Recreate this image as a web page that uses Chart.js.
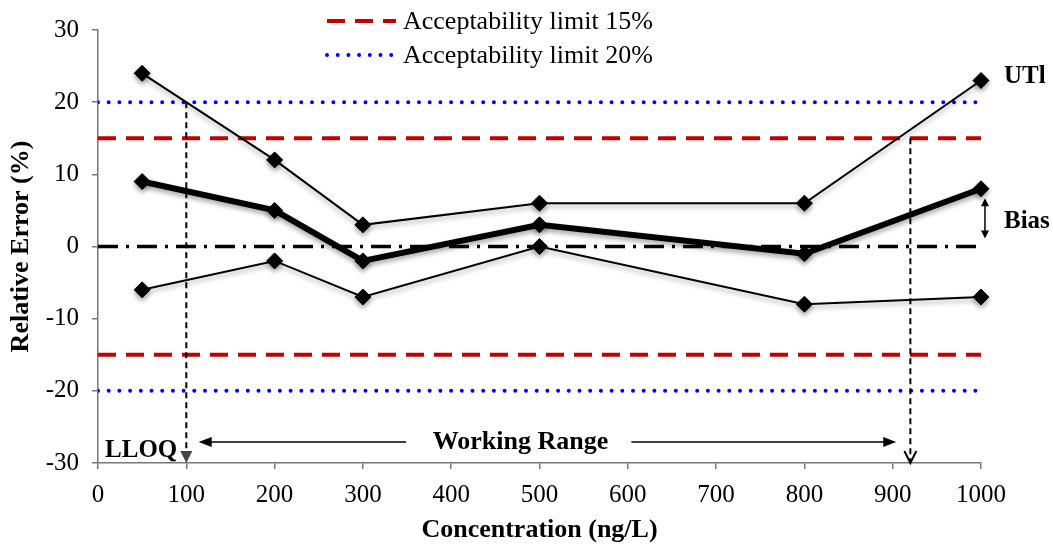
<!DOCTYPE html>
<html>
<head>
<meta charset="utf-8">
<script src="https://cdn.jsdelivr.net/npm/chart.js@4.4.1/dist/chart.umd.min.js"></script>
<style>
  html, body { margin: 0; padding: 0; background: #fff; }
  #wrap { width: 1053px; height: 546px; }
</style>
</head>
<body>
<div id="wrap"><canvas id="chart" width="1053" height="546"></canvas></div>
<script>
// values
const concentration = [50, 200, 300, 500, 800, 1000];
const upperTol = [24, 12, 3, 6, 6, 23];
const bias = [9, 5, -2, 3, -1, 8];
const lowerTol = [-6, -2, -7, 0, -8, -7];

const limitSpan = [0, 1000];
const limit15 = 15;
const limit20 = 20;

const xRange = [0, 1000];
const yRange = [-30, 30];

// annotation anchors (data units)
const lloqX = 100;
const uloqX = 920;
const rangeY = -27.1;

const FONT = "'Liberation Serif', 'Times New Roman', serif";
const RED = '#c00000';
const BLUE = '#0000ff';

const pts = (xs, ys) => xs.map((x, i) => ({ x: x, y: ys[i] }));
const flat = v => limitSpan.map(x => ({ x: x, y: v }));

function head(ctx, x, y, ang, len, half, mode) {
  ctx.save();
  ctx.translate(x, y);
  ctx.rotate(ang);
  ctx.setLineDash([]);
  ctx.beginPath();
  ctx.moveTo(-len, -half);
  ctx.lineTo(0, 0);
  ctx.lineTo(-len, half);
  if (mode === 'open') {
    ctx.lineWidth = 2;
    ctx.stroke();
  } else {
    ctx.closePath();
    ctx.fill();
  }
  ctx.restore();
}

const overlay = {
  id: 'overlay',
  beforeDatasetDraw(chart, args) {
    if (chart.data.datasets[args.index].shadow) {
      const c = chart.ctx;
      c.save();
      c.shadowColor = 'rgba(0,0,0,0.35)';
      c.shadowBlur = 5;
      c.shadowOffsetY = 3;
    }
  },
  afterDatasetDraw(chart, args) {
    if (chart.data.datasets[args.index].shadow) chart.ctx.restore();
  },
  afterDatasetsDraw(chart) {
    const ctx = chart.ctx;
    const xs = chart.scales.x, ys = chart.scales.y;
    const px = v => xs.getPixelForValue(v);
    const py = v => ys.getPixelForValue(v);
    ctx.save();

    // LLOQ vertical arrow
    ctx.strokeStyle = '#000';
    ctx.lineWidth = 2;
    ctx.setLineDash([6, 4]);
    ctx.beginPath();
    ctx.moveTo(px(lloqX), py(limit20));
    ctx.lineTo(px(lloqX), py(-30) - 8);
    ctx.stroke();
    ctx.fillStyle = '#444';
    head(ctx, px(lloqX), py(-30), Math.PI / 2, 12, 6, 'fill');

    // upper limit vertical arrow
    ctx.setLineDash([6, 4]);
    ctx.beginPath();
    ctx.moveTo(px(uloqX), py(limit15));
    ctx.lineTo(px(uloqX), py(-30) - 2);
    ctx.stroke();
    ctx.strokeStyle = '#000';
    head(ctx, px(uloqX), py(-30), Math.PI / 2, 12, 6, 'open');

    // working range arrow
    ctx.setLineDash([]);
    ctx.lineWidth = 1.5;
    ctx.fillStyle = '#000';
    ctx.beginPath();
    ctx.moveTo(px(114) + 10, py(rangeY));
    ctx.lineTo(px(349), py(rangeY));
    ctx.moveTo(px(604), py(rangeY));
    ctx.lineTo(px(904) - 10, py(rangeY));
    ctx.stroke();
    head(ctx, px(114), py(rangeY), Math.PI, 13, 5, 'fill');
    head(ctx, px(904), py(rangeY), 0, 13, 5, 'fill');

    // bias double arrow
    const bx = px(1004.5);
    ctx.beginPath();
    ctx.moveTo(bx, py(6.7) + 6);
    ctx.lineTo(bx, py(1.1) - 6);
    ctx.stroke();
    head(ctx, bx, py(6.7), -Math.PI / 2, 8, 4, 'fill');
    head(ctx, bx, py(1.1), Math.PI / 2, 8, 4, 'fill');

    // labels
    ctx.fillStyle = '#000';
    ctx.font = 'bold 26px ' + FONT;
    ctx.textBaseline = 'middle';
    ctx.textAlign = 'center';
    ctx.fillText('Working Range', px(478.5), py(rangeY));
    ctx.textAlign = 'left';
    ctx.font = 'bold 25px ' + FONT;
    ctx.fillText('LLOQ', px(8), py(-28.3));
    ctx.fillText('UTl', px(1026), py(23.5));
    ctx.fillText('Bias', px(1026), py(3.5));
    ctx.restore();
  },
  afterDraw(chart) {
    // legend, two rows at the top
    const ctx = chart.ctx;
    const rows = chart.data.datasets.filter(d => d.inLegend);
    ctx.save();
    rows.forEach((d, i) => {
      const y = 21 + i * 34;
      ctx.strokeStyle = d.borderColor;
      ctx.lineWidth = d.borderWidth;
      ctx.lineCap = d.borderCapStyle || 'butt';
      ctx.setLineDash(d.borderDash || []);
      ctx.beginPath();
      ctx.moveTo(327, y);
      ctx.lineTo(396, y);
      ctx.stroke();
      ctx.fillStyle = '#000';
      ctx.font = '26px ' + FONT;
      ctx.textBaseline = 'middle';
      ctx.textAlign = 'left';
      ctx.fillText(d.label, 403, y + 1);
    });
    ctx.restore();
  }
};

const thin = (label, ys) => ({
  label: label, data: pts(concentration, ys), borderColor: '#000', borderWidth: 2,
  pointStyle: 'rectRot', pointRadius: 8, pointHoverRadius: 8,
  pointBackgroundColor: '#000', pointBorderColor: '#000', pointBorderWidth: 1,
  clip: false, shadow: true, tension: 0
});

// plain tick text: hyphen minus, no thousands separator
const plain = v => String(v).replace('\u2212', '-');

new Chart(document.getElementById('chart'), {
  type: 'line',
  data: {
    datasets: [
      thin('UTl', upperTol),
      Object.assign(thin('Bias', bias), { borderWidth: 6 }),
      thin('LTl', lowerTol),
      { label: 'zero', data: flat(0), borderColor: '#000', borderWidth: 3.5,
        borderDash: [20, 8, 3, 8], pointRadius: 0, clip: false },
      { label: 'Acceptability limit 15%', data: flat(limit15), borderColor: RED, borderWidth: 4,
        borderDash: [18, 10], pointRadius: 0, inLegend: true },
      { label: 'Acceptability limit 15% (lower)', data: flat(-limit15), borderColor: RED, borderWidth: 4,
        borderDash: [18, 10], pointRadius: 0 },
      { label: 'Acceptability limit 20%', data: flat(limit20), borderColor: BLUE, borderWidth: 4,
        borderDash: [0, 10.7], borderCapStyle: 'round', pointRadius: 0, inLegend: true },
      { label: 'Acceptability limit 20% (lower)', data: flat(-limit20), borderColor: BLUE, borderWidth: 4,
        borderDash: [0, 10.7], borderCapStyle: 'round', pointRadius: 0 }
    ]
  },
  options: {
    responsive: false,
    animation: false,
    events: [],
    layout: { padding: { top: 30, right: 72, bottom: 0, left: 0 } },
    plugins: { legend: { display: false }, tooltip: { enabled: false } },
    scales: {
      x: {
        type: 'linear', min: xRange[0], max: xRange[1],
        ticks: { stepSize: 100, color: '#000', padding: 11, maxRotation: 0,
                 font: { family: FONT, size: 25 }, callback: plain },
        grid: { drawOnChartArea: false, tickLength: 6, color: '#777', lineWidth: 1.5 },
        border: { color: '#777', width: 1.5 },
        title: { display: true, text: 'Concentration (ng/L)', color: '#000',
                 font: { family: FONT, size: 26, weight: 'bold' }, padding: { top: 0, bottom: 0 } },
        afterFit: s => { s.height = 83; }
      },
      y: {
        min: yRange[0], max: yRange[1],
        ticks: { stepSize: 10, color: '#000', padding: 13,
                 font: { family: FONT, size: 25 }, callback: plain },
        grid: { drawOnChartArea: false, tickLength: 6, color: '#777', lineWidth: 1.5 },
        border: { color: '#777', width: 1.5 },
        title: { display: true, text: 'Relative Error (%)', color: '#000',
                 font: { family: FONT, size: 26, weight: 'bold' }, padding: { top: 6, bottom: 0 } },
        afterFit: s => { s.width = 98; }
      }
    }
  },
  plugins: [overlay]
});
</script>
</body>
</html>
